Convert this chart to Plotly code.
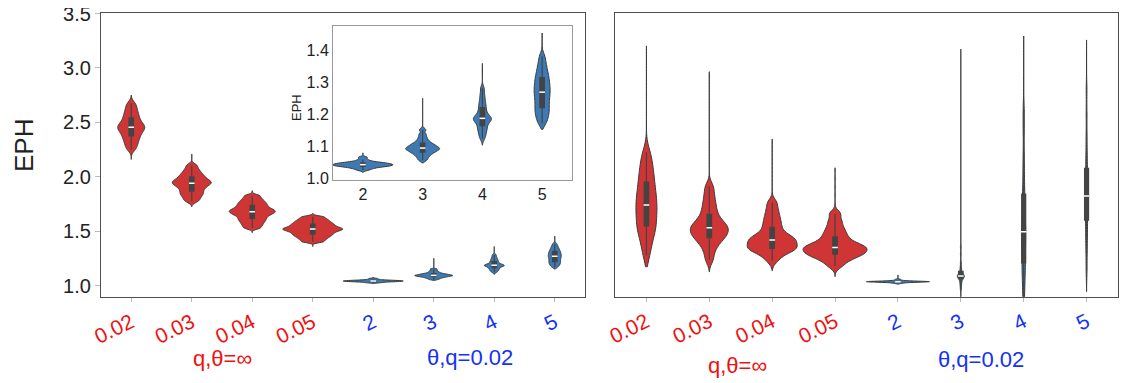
import numpy as np
import plotly.graph_objects as go

q_labels = ["0.02", "0.03", "0.04", "0.05"]
theta_labels = ["2", "3", "4", "5"]
eph_ticks = [1.0, 1.5, 2.0, 2.5, 3.0, 3.5]
inset_ticks = [1.0, 1.1, 1.2, 1.3, 1.4]

# left panel: EPH samples per setting
eph_q002 = [2.252, 2.285, 2.313, 2.338, 2.360, 2.380, 2.399, 2.416, 2.431, 2.444, 2.455,
            2.468, 2.481, 2.496, 2.515, 2.536, 2.558, 2.582, 2.609, 2.640, 2.675]
eph_q003 = [1.775, 1.800, 1.822, 1.840, 1.857, 1.873, 1.891, 1.905, 1.918, 1.930, 1.940,
            1.949, 1.958, 1.969, 1.981, 1.995, 2.010, 2.027, 2.047, 2.072, 2.105]
eph_q004 = [1.530, 1.553, 1.573, 1.591, 1.607, 1.622, 1.637, 1.650, 1.661, 1.671, 1.680,
            1.689, 1.698, 1.709, 1.721, 1.735, 1.749, 1.764, 1.781, 1.801, 1.826]
eph_q005 = [1.403, 1.422, 1.438, 1.452, 1.464, 1.475, 1.486, 1.496, 1.505, 1.513, 1.520,
            1.527, 1.535, 1.544, 1.554, 1.564, 1.575, 1.587, 1.600, 1.615, 1.633]
eph_t2 = [1.026, 1.030, 1.033, 1.035, 1.037, 1.038, 1.039, 1.040, 1.041, 1.042, 1.043,
          1.044, 1.045, 1.046, 1.047, 1.048, 1.050, 1.051, 1.054, 1.059, 1.066]
eph_t3 = [1.057, 1.065, 1.071, 1.076, 1.080, 1.083, 1.086, 1.089, 1.091, 1.093, 1.095,
          1.097, 1.100, 1.103, 1.106, 1.109, 1.114, 1.120, 1.128, 1.138, 1.152]
eph_t4 = [1.125, 1.136, 1.145, 1.153, 1.160, 1.167, 1.174, 1.179, 1.183, 1.186, 1.188,
          1.191, 1.196, 1.202, 1.210, 1.219, 1.228, 1.238, 1.250, 1.264, 1.282]
eph_t5 = [1.172, 1.185, 1.196, 1.206, 1.215, 1.224, 1.234, 1.243, 1.253, 1.261, 1.270,
          1.278, 1.286, 1.295, 1.304, 1.313, 1.323, 1.334, 1.347, 1.362, 1.382]
# lowest / highest tip of each violin
eph_extent = [(2.16, 2.75), (1.726, 2.21), (1.487, 1.873), (1.359, 1.665),
              (1.019, 1.08), (1.049, 1.251), (1.104, 1.36), (1.154, 1.455)]

# right panel (no y scale shown), same settings
r_q002 = [1.45, 1.80, 2.05, 2.25, 2.40, 2.53, 2.68, 2.83, 2.98, 3.11, 3.24,
          3.38, 3.52, 3.67, 3.83, 4.00, 4.18, 4.37, 4.58, 4.82, 5.10]
r_q003 = [1.30, 1.58, 1.78, 1.92, 2.02, 2.10, 2.17, 2.24, 2.31, 2.37, 2.43,
          2.49, 2.56, 2.64, 2.74, 2.87, 3.03, 3.20, 3.40, 3.63, 3.90]
r_q004 = [1.28, 1.46, 1.57, 1.64, 1.68, 1.71, 1.77, 1.83, 1.89, 1.95, 2.00,
          2.05, 2.10, 2.17, 2.27, 2.41, 2.55, 2.70, 2.87, 3.07, 3.32]
r_q005 = [1.08, 1.24, 1.34, 1.42, 1.47, 1.51, 1.56, 1.61, 1.66, 1.70, 1.74,
          1.78, 1.83, 1.89, 1.97, 2.08, 2.19, 2.32, 2.48, 2.68, 2.93]
r_t2 = [0.470, 0.490, 0.500, 0.510, 0.515, 0.520, 0.523, 0.525, 0.527, 0.529, 0.530,
        0.531, 0.533, 0.535, 0.538, 0.540, 0.545, 0.550, 0.560, 0.580, 0.610]
r_t3 = [0.25, 0.38, 0.47, 0.54, 0.60, 0.65, 0.68, 0.70, 0.715, 0.725, 0.73,
        0.74, 0.75, 0.77, 0.80, 0.88, 0.95, 1.05, 1.22, 1.50, 1.75]
r_t4 = [-0.35, 0.15, 0.50, 0.80, 1.04, 1.24, 1.48, 1.72, 1.94, 2.12, 2.29,
        2.50, 2.70, 2.95, 3.20, 3.53, 3.90, 4.40, 5.00, 5.90, 6.60]
r_t5 = [0.90, 1.50, 1.90, 2.20, 2.50, 2.77, 3.00, 3.20, 3.35, 3.45, 3.55,
        3.65, 3.78, 3.92, 4.15, 4.45, 4.75, 5.15, 5.70, 6.50, 7.30]
r_extent = [(1.06, 8.85), (0.88, 7.94), (0.92, 5.56), (0.71, 4.55),
            (0.44, 0.77), (-0.3, 8.74), (-0.6, 9.2), (0.18, 9.06)]

left_data = [eph_q002, eph_q003, eph_q004, eph_q005, eph_t2, eph_t3, eph_t4, eph_t5]
right_data = [r_q002, r_q003, r_q004, r_q005, r_t2, r_t3, r_t4, r_t5]
inset_data = [eph_t2, eph_t3, eph_t4, eph_t5]

# styling
RED_FILL, BLUE_FILL = "#d03535", "#3d79b3"
RED_TXT, BLUE_TXT = "#f01010", "#1432f5"
EDGE = "#3a3a3a"
FONT = "Liberation Sans, Arial, sans-serif"
left_w_px = [27, 39, 46, 60, 60, 38, 20, 13]
right_w_px = [21, 38, 50, 64, 63, 7, 4, 4]
inset_w_px = [60, 34, 18, 16]
left_bw = [0.028, 0.018, 0.013, 0.010, 0.003, 0.005, 0.009, 0.013]
right_bw = [0.30, 0.17, 0.14, 0.12, 0.015, 0.07, 0.35, 0.30]
BOX_PX = 4.5

# page body has an 8px margin, so every pixel position is taken 8px up/left
OFF = 8
W, H = 1132, 383
left_px = (101 - OFF, 585 - OFF)
right_px = (615 - OFF, 1118 - OFF)
inset_px = (333 - OFF, 572 - OFF)
top_px, bot_px, bot_px2 = 13.3 - OFF, 297 - OFF, 296.7 - OFF
inset_top, inset_bot = 26 - OFF, 180 - OFF


def xdom(a, b):
    return [a / W, b / W]


def ydom(top, bot):
    return [1 - bot / H, 1 - top / H]


fig = go.Figure()


def add_violins(data, extents, widths_px, bws, px_per_cat, xa, ya, fills):
    for i, vals in enumerate(data):
        w = widths_px[i] / px_per_cat
        fig.add_trace(go.Violin(
            y=vals, x0=i, width=w, bandwidth=bws[i],
            spanmode="manual", span=list(extents[i]),
            fillcolor=fills[i], line=dict(color=EDGE, width=1), opacity=1,
            points=False,
            box=dict(visible=True, width=min(1.0, BOX_PX / widths_px[i]),
                     fillcolor="#444444", line=dict(color="#444444", width=1.2)),
            meanline=dict(visible=False),
            xaxis=xa, yaxis=ya, showlegend=False, hoverinfo="skip"))
        fig.add_trace(go.Scatter(
            x=[i], y=[float(np.median(vals))], mode="markers",
            marker=dict(symbol="line-ew", size=4, line=dict(color="white", width=1.5)),
            xaxis=xa, yaxis=ya, showlegend=False, hoverinfo="skip"))


fills8 = [RED_FILL] * 4 + [BLUE_FILL] * 4
add_violins(left_data, eph_extent, left_w_px, left_bw,
            (left_px[1] - left_px[0]) / 8, "x", "y", fills8)
add_violins(right_data, r_extent, right_w_px, right_bw,
            (right_px[1] - right_px[0]) / 8, "x2", "y2", fills8)
add_violins(inset_data, eph_extent[4:], inset_w_px, left_bw[4:],
            (inset_px[1] - inset_px[0]) / 4, "x3", "y3", [BLUE_FILL] * 4)

tick_text = ([f"<span style='color:{RED_TXT}'>{t}</span>" for t in q_labels] +
             [f"<span style='color:{BLUE_TXT}'>{t}</span>" for t in theta_labels])

frame = dict(showline=True, mirror=True, linecolor="#4d4d4d", linewidth=1.3,
             showgrid=False, zeroline=False, automargin=False)
xcat = dict(range=[-0.5, 7.5], tickmode="array", tickvals=list(range(8)), ticktext=tick_text,
            tickangle=-26, ticks="outside", ticklen=4, tickcolor="#bbbbbb",
            tickfont=dict(family=FONT, size=21), **frame)
inset_frame = dict(showline=True, mirror=True, linecolor="#999999", linewidth=1,
                   showgrid=False, zeroline=False, automargin=False)

fig.update_layout(
    width=W, height=H, autosize=False,
    margin=dict(l=0, r=0, t=0, b=0),
    paper_bgcolor="white", plot_bgcolor="white",
    violinmode="overlay",
    font=dict(family=FONT, color="#222222"),
    xaxis=dict(domain=xdom(*left_px), anchor="y", **xcat),
    yaxis=dict(domain=ydom(top_px, bot_px), anchor="x", range=[0.896, 3.502],
               tickmode="array", tickvals=eph_ticks, tickformat=".1f",
               ticklabeloverflow="allow",
               ticks="outside", ticklen=5, tickcolor="#bbbbbb",
               tickfont=dict(family=FONT, size=20), **frame),
    xaxis2=dict(domain=xdom(*right_px), anchor="y2", **xcat),
    yaxis2=dict(domain=ydom(top_px, bot_px2), anchor="x2", range=[0, 10],
                showticklabels=False, ticks="", **frame),
    xaxis3=dict(domain=xdom(*inset_px), anchor="y3", range=[-0.5, 3.5],
                tickmode="array", tickvals=list(range(4)), ticktext=theta_labels,
                ticks="", tickfont=dict(family=FONT, size=16), **inset_frame),
    yaxis3=dict(domain=ydom(inset_top, inset_bot), anchor="x3", range=[0.995, 1.477],
                tickmode="array", tickvals=inset_ticks, tickformat=".1f", ticks="",
                tickfont=dict(family=FONT, size=16), **inset_frame),
)

annots = [
    ("EPH", 24, 146, 26, "#222222", -90),
    ("EPH", 297, 108, 13, "#222222", -90),
    ("q,θ=∞", 222, 358, 22, RED_TXT, 0),
    ("θ,q=0.02", 470, 357, 22, BLUE_TXT, 0),
    ("q,θ=∞", 737, 365, 22, RED_TXT, 0),
    ("θ,q=0.02", 981, 359, 22, BLUE_TXT, 0),
]
for text, px, py, size, color, ang in annots:
    fig.add_annotation(text=text, x=(px - OFF) / W, y=1 - (py - OFF) / H,
                       xref="paper", yref="paper",
                       showarrow=False, textangle=ang, xanchor="center", yanchor="middle",
                       font=dict(family=FONT, size=size, color=color))

fig.write_html("out.html")
